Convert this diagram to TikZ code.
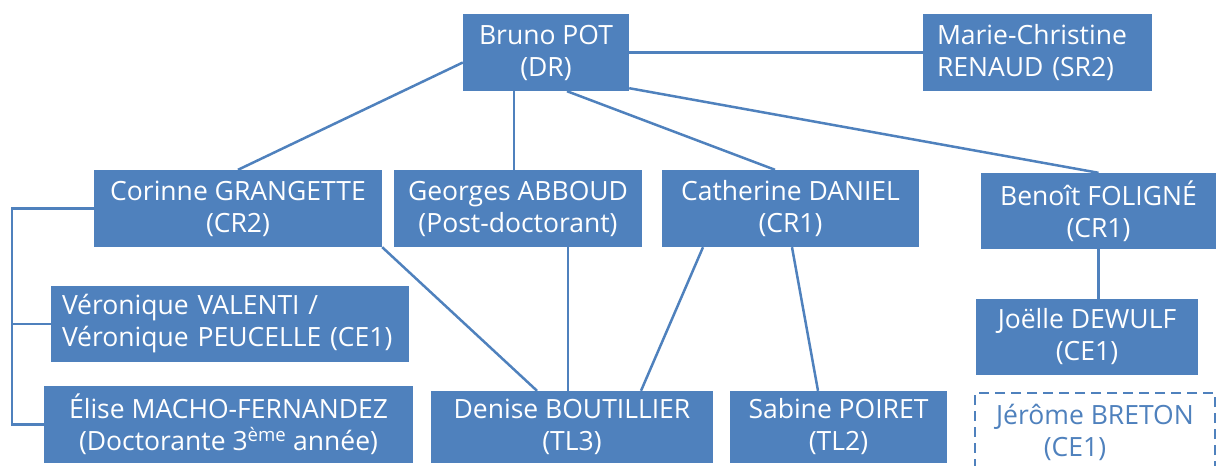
\documentclass[tikz,border=0pt]{standalone}
\usepackage{fontspec}
\setmainfont{Open Sans}
\usepackage{xcolor}
\usepackage{tikz}
\usetikzlibrary{shapes,positioning}
\definecolor{boxblue}{HTML}{4F81BD}
\tikzstyle{person} = [rectangle, fill=boxblue, text=white, align=center,
    inner sep=0pt, minimum height=76pt, font=\fontsize{26.5}{32}\selectfont]
\tikzstyle{guest} = [person, fill=white, draw=boxblue,
    dash pattern=on 10pt off 6pt, line width=2.8pt, text=boxblue]
\tikzstyle{edge} = [draw, boxblue, line width=2.5pt]

\begin{document}
\begin{tikzpicture}[x=1pt, y=-1pt]
  \useasboundingbox (0,0) rectangle (1219,466);
  % Place nodes
  \node [person, minimum width=166pt, minimum height=77pt] (pot) at (546,52.5) {Bruno POT\\(DR)};
  \node [person, minimum width=229pt, minimum height=77pt, align=left, text width=201pt]
    (renaud) at (1037.5,52.5) {Marie-Christine\\RENAUD (SR2)};

  \node [person, minimum width=288pt, minimum height=77pt] (grangette) at (238,208.5) {Corinne GRANGETTE\\(CR2)};
  \node [person, minimum width=248pt, minimum height=77pt] (abboud) at (518,208.5) {Georges ABBOUD\\(Post-doctorant)};
  \node [person, minimum width=257pt, minimum height=77pt] (daniel) at (790.5,208.5) {Catherine DANIEL\\(CR1)};
  \node [person, minimum width=235pt] (foligne) at (1098.5,211) {Benoît FOLIGNÉ\\(CR1)};

  \node [person, minimum width=358pt, align=left, text width=336pt] (valenti) at (230,324)
    {Véronique VALENTI /\\Véronique PEUCELLE (CE1)};
  \node [person, minimum width=222pt] (dewulf) at (1087,337) {Joëlle DEWULF\\(CE1)};

  \node [person, minimum width=369pt, minimum height=77pt] (macho) at (228.5,424.5)
    {Élise MACHO-FERNANDEZ\\(Doctorante 3\textsuperscript{ème} année)};
  \node [person, minimum width=282pt, minimum height=72pt] (boutillier) at (572,427)
    {Denise BOUTILLIER\\(TL3)};
  \node [person, minimum width=217pt, minimum height=72pt] (poiret) at (838.5,427)
    {Sabine POIRET\\(TL2)};
  \node [guest, minimum width=240pt, minimum height=78pt, align=left] (breton) at (1095,432)
    {Jérôme BRETON\\\hspace*{1.8em}(CE1)};

  % Links from Bruno POT
  \path [edge] (pot.east) -- (renaud.west);
  \path [edge] ([yshift=-10pt]pot.west) -- (grangette.north);
  \path [edge] ([xshift=-32pt]pot.south) -- ([xshift=-4pt]abboud.north);
  \path [edge] ([xshift=21pt]pot.south) -- ([xshift=-15.5pt]daniel.north);
  \path [edge] ([yshift=3pt]pot.south east) -- (foligne.north);

  % Links to the lower row
  \path [edge] (grangette.south east) -- ([xshift=-35pt]boutillier.north);
  \path [edge] ([xshift=50pt]abboud.south) -- ([xshift=-4pt]boutillier.north);
  \path [edge] ([xshift=-87.5pt]daniel.south) -- ([xshift=69pt]boutillier.north);
  \path [edge] ([xshift=1.5pt]daniel.south) -- ([xshift=-20.5pt]poiret.north);
  \path [edge] (foligne.south) -- ([xshift=11.5pt]dewulf.north);

  % Bracket on the left
  \path [edge] (grangette.west) -| ([xshift=-32pt]macho.west) -- (macho.west);
  \path [edge] ([xshift=-39pt]valenti.west) -- (valenti.west);

\end{tikzpicture}
\end{document}
